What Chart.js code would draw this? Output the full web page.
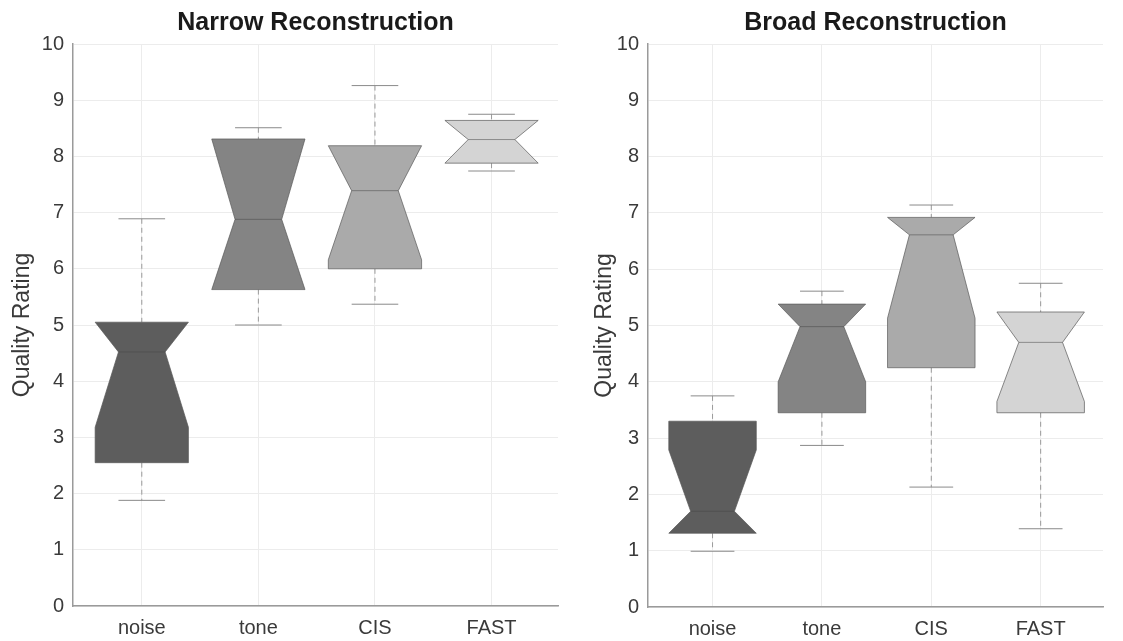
<!DOCTYPE html>
<html>
<head>
<meta charset="utf-8">
<script src="https://cdn.jsdelivr.net/npm/chart.js@4"></script>
<style>
    body { margin: 0; background: #fff; }
    .panel { position: absolute; top: 0; }
    #narrowWrap { left: 0; }
    #broadWrap { left: 582px; }
</style>
</head>
<body>
<div class="panel" id="narrowWrap"><canvas id="narrowChart" width="562" height="641"></canvas></div>
<div class="panel" id="broadWrap"><canvas id="broadChart" width="541" height="641"></canvas></div>
<script>
// categories and axis ticks
const categories = ['noise', 'tone', 'CIS', 'FAST'];
const yTickValues = [0, 1, 2, 3, 4, 5, 6, 7, 8, 9, 10];

// Narrow reconstruction
const narrowWhiskerLow = [1.88, 5.00, 5.37, 7.74];
const narrowQ1 = [2.55, 5.63, 6.00, 7.88];
const narrowNotchLow = [3.18, 5.63, 6.16, 7.88];
const narrowMedian = [4.52, 6.88, 7.39, 8.30];
const narrowNotchHigh = [5.05, 8.31, 8.19, 8.64];
const narrowQ3 = [5.05, 8.31, 8.19, 8.64];
const narrowWhiskerHigh = [6.89, 8.51, 9.26, 8.75];

// Broad reconstruction
const broadWhiskerLow = [0.99, 2.87, 2.13, 1.39];
const broadQ1 = [1.31, 3.45, 4.25, 3.45];
const broadNotchLow = [1.31, 4.00, 5.13, 3.65];
const broadMedian = [1.70, 4.98, 6.61, 4.70];
const broadNotchHigh = [2.79, 5.38, 6.92, 5.24];
const broadQ3 = [3.30, 5.38, 6.92, 5.24];
const broadWhiskerHigh = [3.75, 5.61, 7.14, 5.75];

const boxColors = ['#5d5d5d', '#848484', '#aaaaaa', '#d4d4d4'];
const FONT = '"Liberation Sans", Arial, Helvetica, sans-serif';

// draws notched boxes with whiskers through the chart scales
const boxPlotPlugin = {
    id: 'boxPlot',
    beforeDatasetsDraw(chart, args, opts) {
        const { ctx, scales: { x, y } } = chart;
        const s = opts.stats;
        ctx.save();
        categories.forEach((cat, i) => {
            const pos = i + 1;
            const left = x.getPixelForValue(pos - 0.4);
            const right = x.getPixelForValue(pos + 0.4);
            const wl = x.getPixelForValue(pos - 0.2);
            const wr = x.getPixelForValue(pos + 0.2);
            const cx = x.getPixelForValue(pos);

            // whiskers (dashed)
            ctx.strokeStyle = '#9a9a9a';
            ctx.lineWidth = 1;
            ctx.setLineDash([5, 4]);
            ctx.beginPath();
            ctx.moveTo(cx, y.getPixelForValue(s.high[i]));
            ctx.lineTo(cx, y.getPixelForValue(s.q3[i]));
            ctx.moveTo(cx, y.getPixelForValue(s.q1[i]));
            ctx.lineTo(cx, y.getPixelForValue(s.low[i]));
            ctx.stroke();
            ctx.setLineDash([]);

            // caps
            ctx.strokeStyle = '#8a8a8a';
            ctx.beginPath();
            ctx.moveTo(wl, y.getPixelForValue(s.high[i]));
            ctx.lineTo(wr, y.getPixelForValue(s.high[i]));
            ctx.moveTo(wl, y.getPixelForValue(s.low[i]));
            ctx.lineTo(wr, y.getPixelForValue(s.low[i]));
            ctx.stroke();

            // notched box
            const yq1 = y.getPixelForValue(s.q1[i]);
            const ynl = y.getPixelForValue(s.notchLo[i]);
            const ym = y.getPixelForValue(s.median[i]);
            const ynh = y.getPixelForValue(s.notchHi[i]);
            const yq3 = y.getPixelForValue(s.q3[i]);
            ctx.beginPath();
            ctx.moveTo(left, yq1);
            ctx.lineTo(left, ynl);
            ctx.lineTo(wl, ym);
            ctx.lineTo(left, ynh);
            ctx.lineTo(left, yq3);
            ctx.lineTo(right, yq3);
            ctx.lineTo(right, ynh);
            ctx.lineTo(wr, ym);
            ctx.lineTo(right, ynl);
            ctx.lineTo(right, yq1);
            ctx.closePath();
            ctx.fillStyle = boxColors[i];
            ctx.fill();
            ctx.strokeStyle = 'rgba(90,90,90,0.7)';
            ctx.stroke();

            // median
            ctx.beginPath();
            ctx.moveTo(wl, ym);
            ctx.lineTo(wr, ym);
            ctx.strokeStyle = 'rgba(70,70,70,0.5)';
            ctx.stroke();
        });
        ctx.restore();
    }
};

// panel title drawn centred over the plot area
const panelTitlePlugin = {
    id: 'panelTitle',
    afterDraw(chart, args, opts) {
        const { ctx, chartArea } = chart;
        ctx.save();
        ctx.font = 'bold 25px ' + FONT;
        ctx.fillStyle = '#1a1a1a';
        ctx.textAlign = 'center';
        ctx.textBaseline = 'middle';
        ctx.fillText(opts.text, (chartArea.left + chartArea.right) / 2, 23);
        ctx.restore();
    }
};

function drawPanel(canvasId, title, stats, yWidth, padRight, xHeight) {
    const ctx = document.getElementById(canvasId).getContext('2d');
    return new Chart(ctx, {
        type: 'scatter',
        data: { datasets: [{ data: [] }] },
        plugins: [boxPlotPlugin, panelTitlePlugin],
        options: {
            responsive: false,
            animation: false,
            devicePixelRatio: 1,
            layout: { padding: { top: 44, right: padRight, left: 0, bottom: 0 } },
            plugins: {
                legend: { display: false },
                tooltip: { enabled: false },
                boxPlot: { stats: stats },
                panelTitle: { text: title }
            },
            scales: {
                x: {
                    type: 'linear',
                    min: 0.41,
                    max: 4.57,
                    afterBuildTicks: (scale) => {
                        scale.ticks = categories.map((c, i) => ({ value: i + 1 }));
                    },
                    afterFit: (scale) => { scale.height = xHeight; },
                    ticks: {
                        callback: (v) => categories[v - 1],
                        font: { family: FONT, size: 20 },
                        color: '#3a3a3a',
                        padding: 10,
                        maxRotation: 0
                    },
                    grid: { color: '#ececec', drawTicks: false },
                    border: { display: true, color: '#9a9a9a', width: 1.5 }
                },
                y: {
                    type: 'linear',
                    min: 0,
                    max: 10,
                    afterBuildTicks: (scale) => {
                        scale.ticks = yTickValues.map(v => ({ value: v }));
                    },
                    afterFit: (scale) => { scale.width = yWidth; },
                    ticks: {
                        font: { family: FONT, size: 20 },
                        color: '#3a3a3a',
                        padding: 9
                    },
                    grid: { color: '#ececec', drawTicks: false },
                    border: { display: true, color: '#9a9a9a', width: 1.5 },
                    title: {
                        display: true,
                        text: 'Quality Rating',
                        font: { family: FONT, size: 23 },
                        color: '#3a3a3a',
                        padding: { top: 9, bottom: 0 }
                    }
                }
            }
        }
    });
}

drawPanel('narrowChart', 'Narrow Reconstruction', {
    low: narrowWhiskerLow, q1: narrowQ1, notchLo: narrowNotchLow, median: narrowMedian,
    notchHi: narrowNotchHigh, q3: narrowQ3, high: narrowWhiskerHigh
}, 73, 4, 35);

drawPanel('broadChart', 'Broad Reconstruction', {
    low: broadWhiskerLow, q1: broadQ1, notchLo: broadNotchLow, median: broadMedian,
    notchHi: broadNotchHigh, q3: broadQ3, high: broadWhiskerHigh
}, 66, 20, 34);
</script>
</body>
</html>
